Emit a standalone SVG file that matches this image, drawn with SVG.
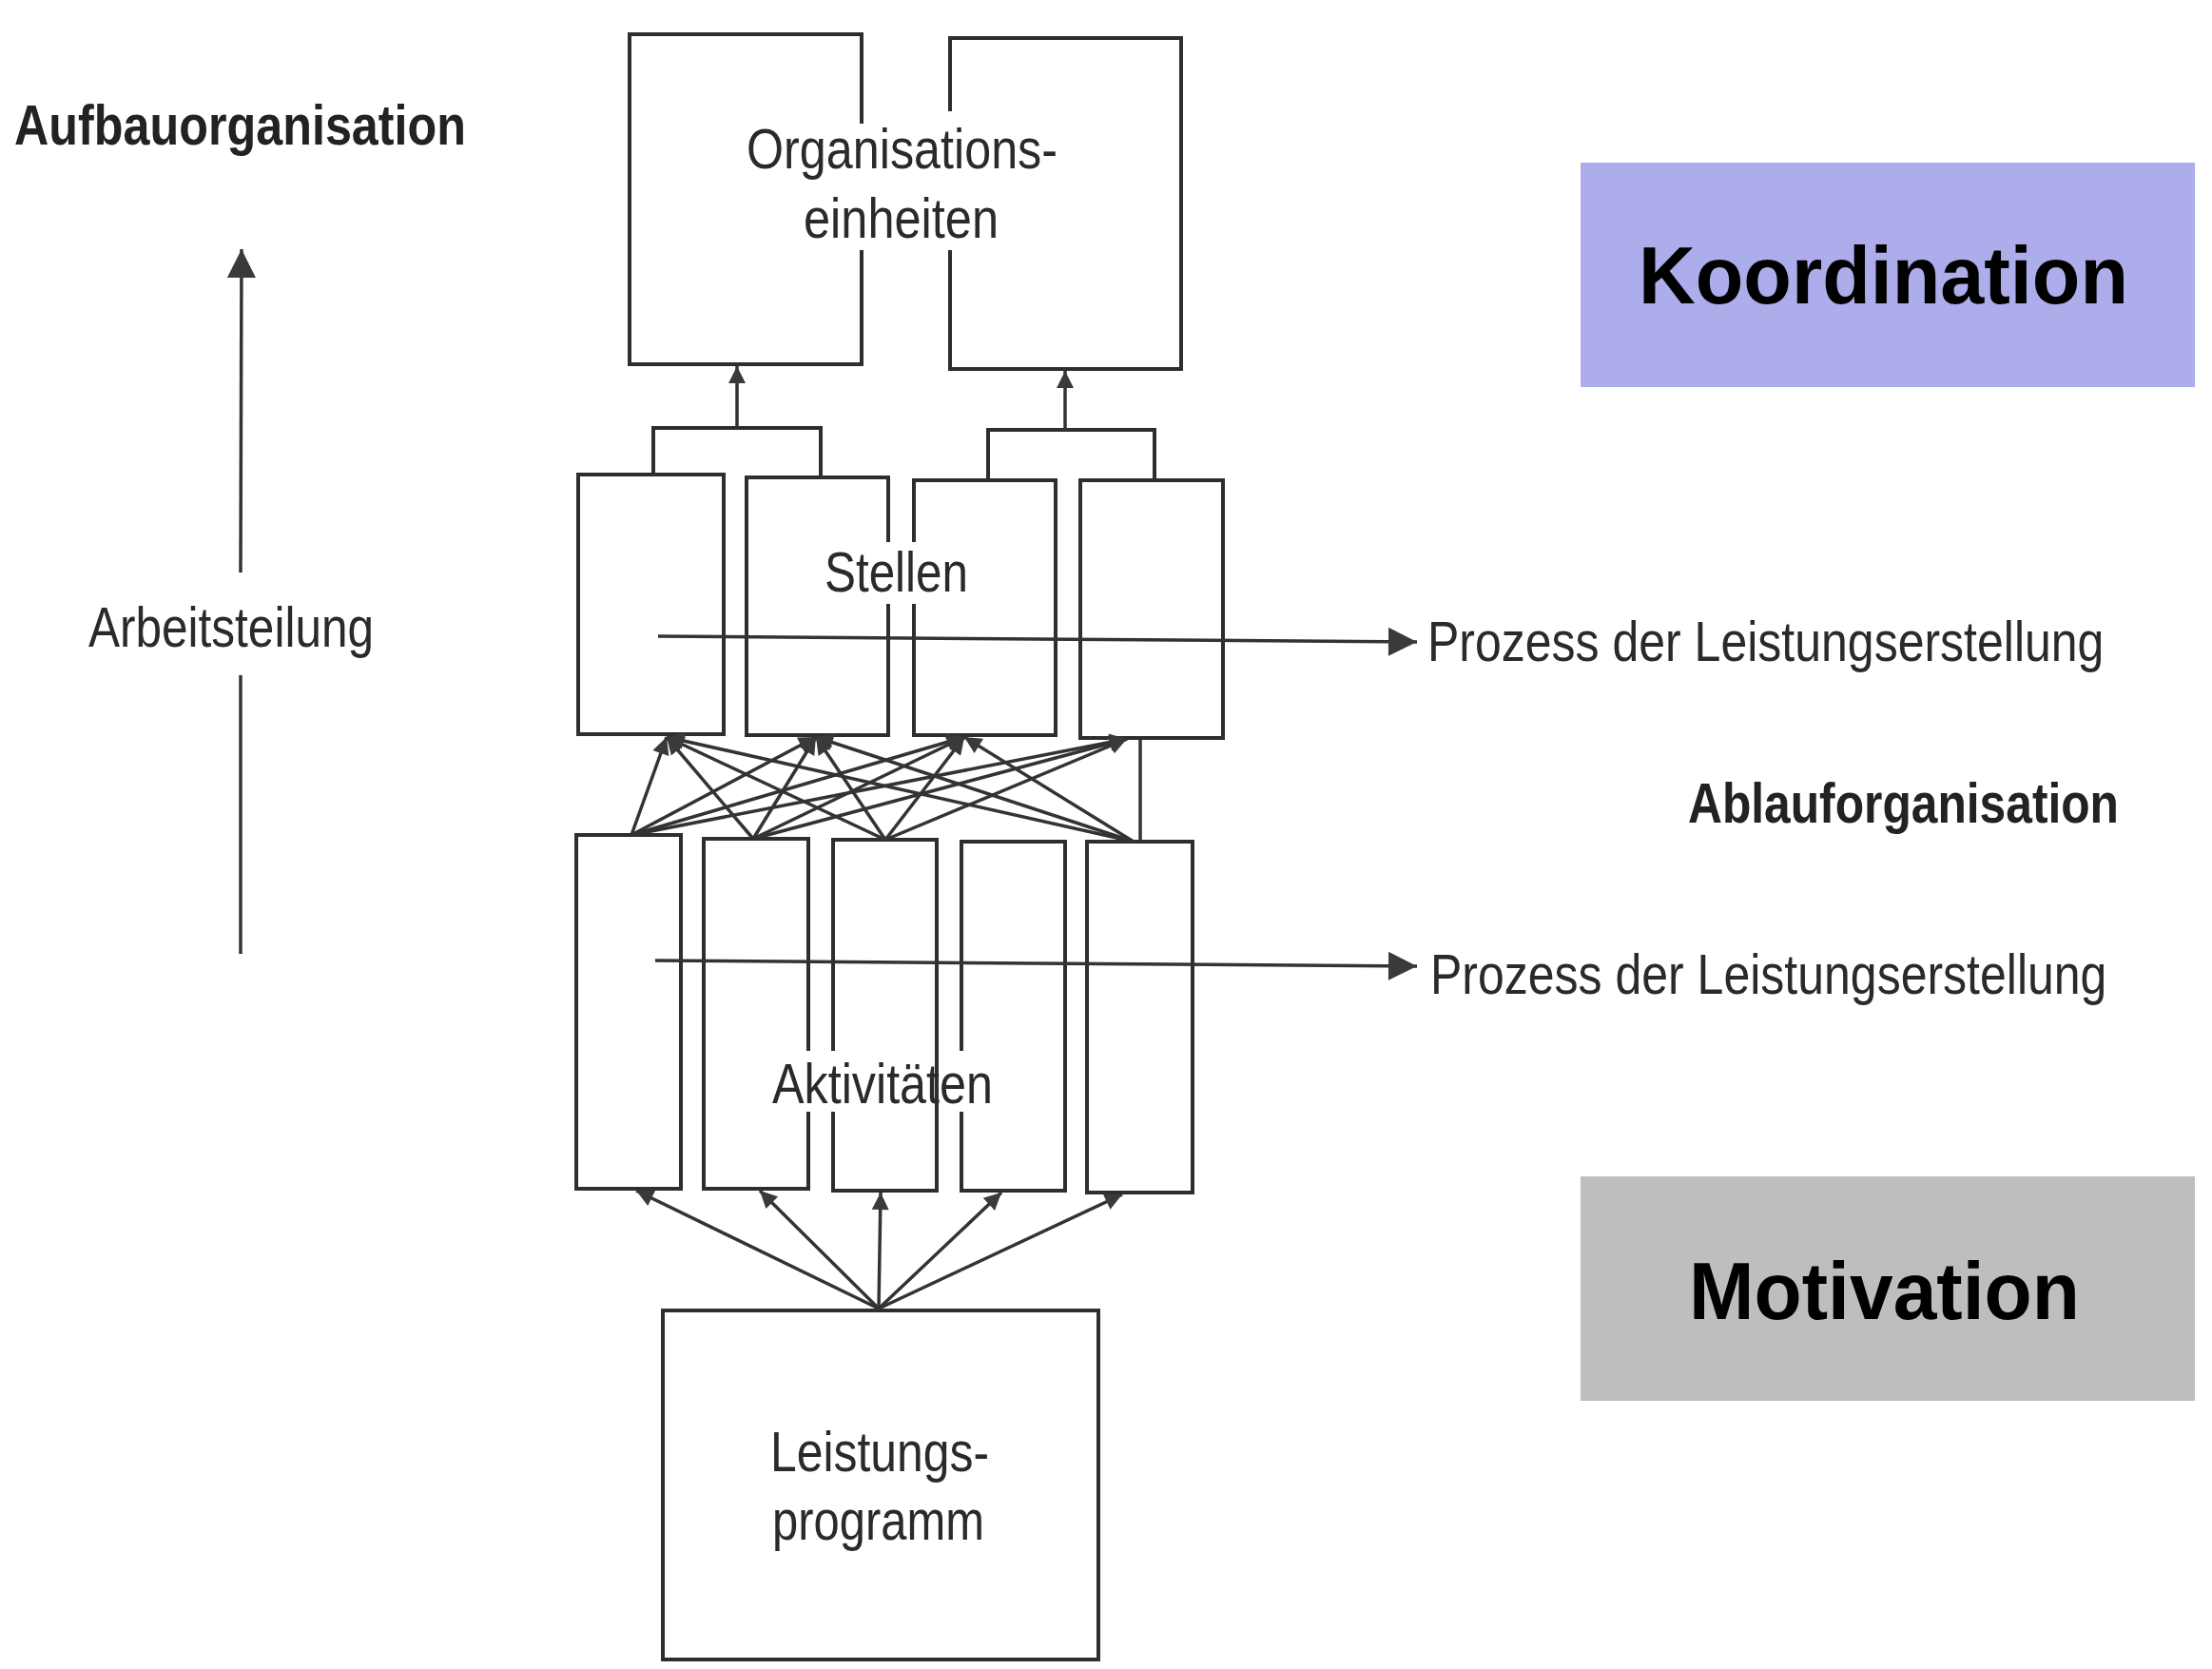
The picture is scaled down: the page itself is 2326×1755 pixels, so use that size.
<svg xmlns="http://www.w3.org/2000/svg" width="2326" height="1755" viewBox="0 0 2326 1755">
<style>
.ln{fill:none;stroke:#2e2e2e;stroke-width:4;stroke-linecap:square}
.thin{fill:none;stroke:#333;stroke-width:3.5}
.t{font-family:"Liberation Sans",Arial,sans-serif;font-size:60px;fill:#2a2a2a}
.p{font-family:"Liberation Sans",Arial,sans-serif;font-size:50px;fill:#2a2a2a}
.b{font-family:"Liberation Sans",Arial,sans-serif;font-weight:bold;fill:#222}
.big{font-family:"Liberation Sans",Arial,sans-serif;font-weight:bold;font-size:85px;fill:#000}
</style>
<defs>
<marker id="ah" viewBox="0 0 10 10" refX="10" refY="5" markerWidth="22" markerHeight="18" markerUnits="userSpaceOnUse" orient="auto">
<path d="M0,0 L10,5 L0,10 z" fill="#3a3a3a"/>
</marker>
<marker id="ahL" viewBox="0 0 10 10" refX="10" refY="5" markerWidth="34" markerHeight="30" markerUnits="userSpaceOnUse" orient="auto">
<path d="M0,0 L10,5 L0,10 z" fill="#3a3a3a"/>
</marker>
</defs>
<rect width="2326" height="1755" fill="#fff"/>

<g id="labels">
<text class="b" x="15" y="152" font-size="60" textLength="475" lengthAdjust="spacingAndGlyphs">Aufbauorganisation</text>
<text class="t" x="93" y="680" textLength="300" lengthAdjust="spacingAndGlyphs">Arbeitsteilung</text>
<text class="b" x="1775" y="865" font-size="60" textLength="453" lengthAdjust="spacingAndGlyphs">Ablauforganisation</text>
<text class="p" transform="translate(1501 695) scale(1 1.2)">Prozess der Leistungserstellung</text>
<text class="p" transform="translate(1504 1045) scale(1 1.2)">Prozess der Leistungserstellung</text>
</g>

<g id="koordination">
<rect x="1662" y="171" width="646" height="236" fill="#ADADEB"/>
<text class="big" x="1723" y="319" textLength="515" lengthAdjust="spacingAndGlyphs">Koordination</text>
</g>
<g id="motivation">
<rect x="1662" y="1237" width="646" height="236" fill="#BEBEBE"/>
<text class="big" x="1776" y="1387" textLength="411" lengthAdjust="spacingAndGlyphs">Motivation</text>
</g>

<g id="organisationseinheiten">
<path class="ln" d="M906 128 V36 H662 V383 H906 V265"/>
<path class="ln" d="M999 115 V40 H1242 V388 H999 V265"/>
<text class="t" x="785" y="177" font-size="58" textLength="327" lengthAdjust="spacingAndGlyphs">Organisations-</text>
<text class="t" x="845" y="250" font-size="58" textLength="205" lengthAdjust="spacingAndGlyphs">einheiten</text>
</g>

<g id="stellen">
<rect class="ln" x="608" y="499" width="153" height="273"/>
<path class="ln" d="M934 568 V502 H785 V773 H934 V637"/>
<path class="ln" d="M961 568 V505 H1110 V773 H961 V637"/>
<rect class="ln" x="1136" y="505" width="150" height="271"/>
<text class="t" x="867" y="622" font-size="58" textLength="151" lengthAdjust="spacingAndGlyphs">Stellen</text>
</g>

<g id="aktivitaeten">
<rect class="ln" x="606" y="878" width="110" height="372"/>
<path class="ln" d="M850 1103 V882 H740 V1250 H850 V1171"/>
<path class="ln" d="M876 1103 V883 H985 V1252 H876 V1171 M985 1171 V1252 M985 883 V1103"/>
<path class="ln" d="M1011 1103 V885 H1120 V1252 H1011 V1171"/>
<rect class="ln" x="1143" y="885" width="111" height="369"/>
<text class="t" x="812" y="1160" textLength="232" lengthAdjust="spacingAndGlyphs">Aktivitäten</text>
</g>

<g id="leistungsprogramm">
<rect class="ln" x="697" y="1378" width="458" height="367"/>
<text class="t" x="810" y="1547" textLength="230" lengthAdjust="spacingAndGlyphs">Leistungs-</text>
<text class="t" x="812" y="1619" textLength="223" lengthAdjust="spacingAndGlyphs">programm</text>
</g>

<g id="connectors">
<line class="thin" x1="253" y1="602" x2="254" y2="262" marker-end="url(#ahL)"/>
<line class="thin" x1="253" y1="710" x2="253" y2="1003"/>
<path class="ln" d="M687 499 V450 H863 V502"/>
<path class="ln" d="M1039 505 V452 H1214 V505"/>
<line class="thin" x1="775" y1="450" x2="775" y2="385" marker-end="url(#ah)"/>
<line class="thin" x1="1120" y1="452" x2="1120" y2="390" marker-end="url(#ah)"/>
<line class="thin" x1="692" y1="669" x2="1490" y2="675" marker-end="url(#ahL)"/>
<line class="thin" x1="689" y1="1010" x2="1490" y2="1016" marker-end="url(#ahL)"/>
<g class="thin" stroke-width="3">
<line x1="664" y1="878" x2="701" y2="775" marker-end="url(#ah)"/>
<line x1="664" y1="878" x2="858" y2="775" marker-end="url(#ah)"/>
<line x1="664" y1="878" x2="1014" y2="775" marker-end="url(#ah)"/>
<line x1="664" y1="878" x2="1185" y2="777" marker-end="url(#ah)"/>
<line x1="792" y1="882" x2="701" y2="775" marker-end="url(#ah)"/>
<line x1="792" y1="882" x2="858" y2="775" marker-end="url(#ah)"/>
<line x1="792" y1="882" x2="1014" y2="775" marker-end="url(#ah)"/>
<line x1="792" y1="882" x2="1185" y2="777" marker-end="url(#ah)"/>
<line x1="931" y1="883" x2="701" y2="775" marker-end="url(#ah)"/>
<line x1="931" y1="883" x2="858" y2="775" marker-end="url(#ah)"/>
<line x1="931" y1="883" x2="1014" y2="775" marker-end="url(#ah)"/>
<line x1="931" y1="883" x2="1185" y2="777" marker-end="url(#ah)"/>
<line x1="1192" y1="885" x2="701" y2="775" marker-end="url(#ah)"/>
<line x1="1192" y1="885" x2="858" y2="775" marker-end="url(#ah)"/>
<line x1="1192" y1="885" x2="1014" y2="775" marker-end="url(#ah)"/>
<line x1="1199" y1="885" x2="1199" y2="777"/>
</g>
<line class="thin" x1="924" y1="1376" x2="669" y2="1252" marker-end="url(#ah)"/>
<line class="thin" x1="924" y1="1376" x2="799" y2="1252" marker-end="url(#ah)"/>
<line class="thin" x1="924" y1="1376" x2="926" y2="1254" marker-end="url(#ah)"/>
<line class="thin" x1="924" y1="1376" x2="1053" y2="1254" marker-end="url(#ah)"/>
<line class="thin" x1="924" y1="1376" x2="1180" y2="1256" marker-end="url(#ah)"/>
</g>
</svg>
